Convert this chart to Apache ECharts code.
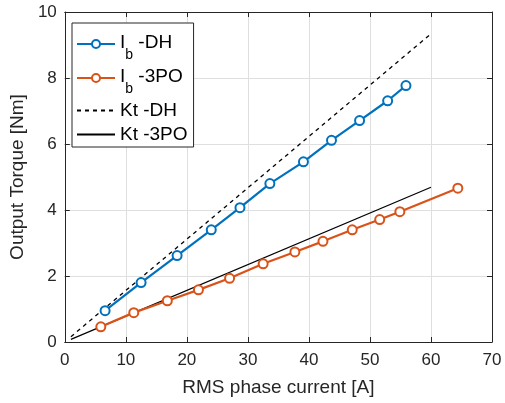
<!DOCTYPE html>
<html>
<head>
<meta charset="utf-8">
<script src="https://cdn.jsdelivr.net/npm/echarts@6/dist/echarts.min.js"></script>
<style>
  html, body { margin: 0; padding: 0; background: #fff; }
  #chart { width: 505px; height: 403px; }
</style>
</head>
<body>
<div id="chart"></div>
<script>
// Measured output torque vs RMS phase current
const currentDH = [6.6, 12.5, 18.4, 24.0, 28.7, 33.6, 39.1, 43.7, 48.3, 52.9, 55.9];
const torqueDH  = [0.95, 1.80, 2.62, 3.40, 4.07, 4.80, 5.46, 6.11, 6.71, 7.31, 7.77];

const current3PO = [5.9, 11.3, 16.8, 21.9, 27.0, 32.5, 37.7, 42.3, 47.1, 51.6, 54.9, 64.4];
const torque3PO  = [0.46, 0.89, 1.25, 1.58, 1.93, 2.37, 2.73, 3.05, 3.40, 3.71, 3.95, 4.66];

// Torque-constant reference lines (end points)
const ktCurrent = [1, 60];
const ktTorqueDH = [0.16, 9.34];
const ktTorque3PO = [0.08, 4.69];

const xTicks = [0, 10, 20, 30, 40, 50, 60, 70];
const yTicks = [0, 2, 4, 6, 8, 10];

const seriesNames = ['Ib -DH', 'Ib -3PO', 'Kt -DH', 'Kt -3PO'];

const zip = (a, b) => a.map((v, i) => [v, b[i]]);

const FONT = 'Liberation Sans, Arial, Helvetica, sans-serif';
const AX = '#262626';
const BLUE = '#0072BD';
const ORANGE = '#D95319';

const chart = echarts.init(document.getElementById('chart'), null, { renderer: 'canvas' });

const baseX = {
  type: 'value',
  min: xTicks[0], max: xTicks[xTicks.length - 1], interval: 10
};
const baseY = {
  type: 'value',
  min: yTicks[0], max: yTicks[yTicks.length - 1], interval: 2
};

// Lines without markers get a plain line as their legend key
const legendData = seriesNames.map((n) =>
  n.indexOf('Kt') === 0 ? { name: n, itemStyle: { opacity: 0 } } : { name: n }
);

chart.setOption({
  backgroundColor: '#ffffff',
  animation: false,
  textStyle: { fontFamily: FONT },
  grid: { left: 61, right: 13, top: 12, bottom: 61, containLabel: false },
  xAxis: [
    Object.assign({}, baseX, {
      position: 'bottom',
      name: 'RMS phase current [A]',
      nameLocation: 'middle',
      nameGap: 36,
      nameTextStyle: { color: AX, fontSize: 19, fontFamily: FONT },
      axisLine: { show: true, onZero: false, lineStyle: { color: AX, width: 1 } },
      axisTick: { show: true, inside: true, length: 5, lineStyle: { color: AX } },
      axisLabel: { color: AX, fontSize: 17, margin: 10, fontFamily: FONT },
      splitLine: { show: true, lineStyle: { color: '#dfdfdf', width: 1 } }
    }),
    Object.assign({}, baseX, {
      position: 'top',
      axisLine: { show: true, onZero: false, lineStyle: { color: AX, width: 1 } },
      axisTick: { show: true, inside: true, length: 5, lineStyle: { color: AX } },
      axisLabel: { show: false },
      splitLine: { show: false }
    })
  ],
  yAxis: [
    Object.assign({}, baseY, {
      position: 'left',
      name: 'Output Torque [Nm]',
      nameLocation: 'middle',
      nameGap: 31,
      nameTextStyle: { color: AX, fontSize: 19, fontFamily: FONT },
      axisLine: { show: true, onZero: false, lineStyle: { color: AX, width: 1 } },
      axisTick: { show: true, inside: true, length: 5, lineStyle: { color: AX } },
      axisLabel: { color: AX, fontSize: 17, margin: 8, fontFamily: FONT },
      splitLine: { show: true, lineStyle: { color: '#dfdfdf', width: 1 } }
    }),
    Object.assign({}, baseY, {
      position: 'right',
      axisLine: { show: true, onZero: false, lineStyle: { color: AX, width: 1 } },
      axisTick: { show: true, inside: true, length: 5, lineStyle: { color: AX } },
      axisLabel: { show: false },
      splitLine: { show: false }
    })
  ],
  legend: {
    data: legendData,
    orient: 'vertical',
    left: 72,
    top: 23,
    padding: [10, 6, 3, 4],
    itemGap: 5,
    itemWidth: 38,
    itemHeight: 10,
    backgroundColor: '#ffffff',
    borderColor: AX,
    borderWidth: 1,
    borderRadius: 0,
    selectedMode: false,
    formatter: function (name) {
      if (name.indexOf('Ib') === 0) {
        return '{m|I}{s|b}{m|' + name.slice(2) + '}';
      }
      return '{p|' + name + '}';
    },
    textStyle: {
      color: '#000',
      fontFamily: FONT,
      fontSize: 19,
      rich: {
        m: { fontSize: 19, lineHeight: 22, verticalAlign: 'top', color: '#000', fontFamily: FONT },
        s: { fontSize: 14, lineHeight: 15, padding: [15, 0, 0, 0], verticalAlign: 'top', color: '#000', fontFamily: FONT },
        p: { fontSize: 19, lineHeight: 20, color: '#000', fontFamily: FONT }
      }
    }
  },
  series: [
    {
      name: seriesNames[0],
      type: 'line',
      xAxisIndex: 0, yAxisIndex: 0,
      data: zip(currentDH, torqueDH),
      symbol: 'emptyCircle',
      symbolSize: 9,
      itemStyle: { color: BLUE, borderColor: BLUE, borderWidth: 2.2 },
      lineStyle: { color: BLUE, width: 2.2 },
      z: 4
    },
    {
      name: seriesNames[1],
      type: 'line',
      xAxisIndex: 0, yAxisIndex: 0,
      data: zip(current3PO, torque3PO),
      symbol: 'emptyCircle',
      symbolSize: 9,
      itemStyle: { color: ORANGE, borderColor: ORANGE, borderWidth: 2.2 },
      lineStyle: { color: ORANGE, width: 2.2 },
      z: 4
    },
    {
      name: seriesNames[2],
      type: 'line',
      xAxisIndex: 0, yAxisIndex: 0,
      data: zip(ktCurrent, ktTorqueDH),
      symbol: 'none',
      itemStyle: { color: '#000' },
      lineStyle: { color: '#000', width: 1.3, type: [4, 4] },
      z: 3
    },
    {
      name: seriesNames[3],
      type: 'line',
      xAxisIndex: 0, yAxisIndex: 0,
      data: zip(ktCurrent, ktTorque3PO),
      symbol: 'none',
      itemStyle: { color: '#000' },
      lineStyle: { color: '#000', width: 1.2 },
      z: 3
    }
  ]
});
</script>
</body>
</html>
